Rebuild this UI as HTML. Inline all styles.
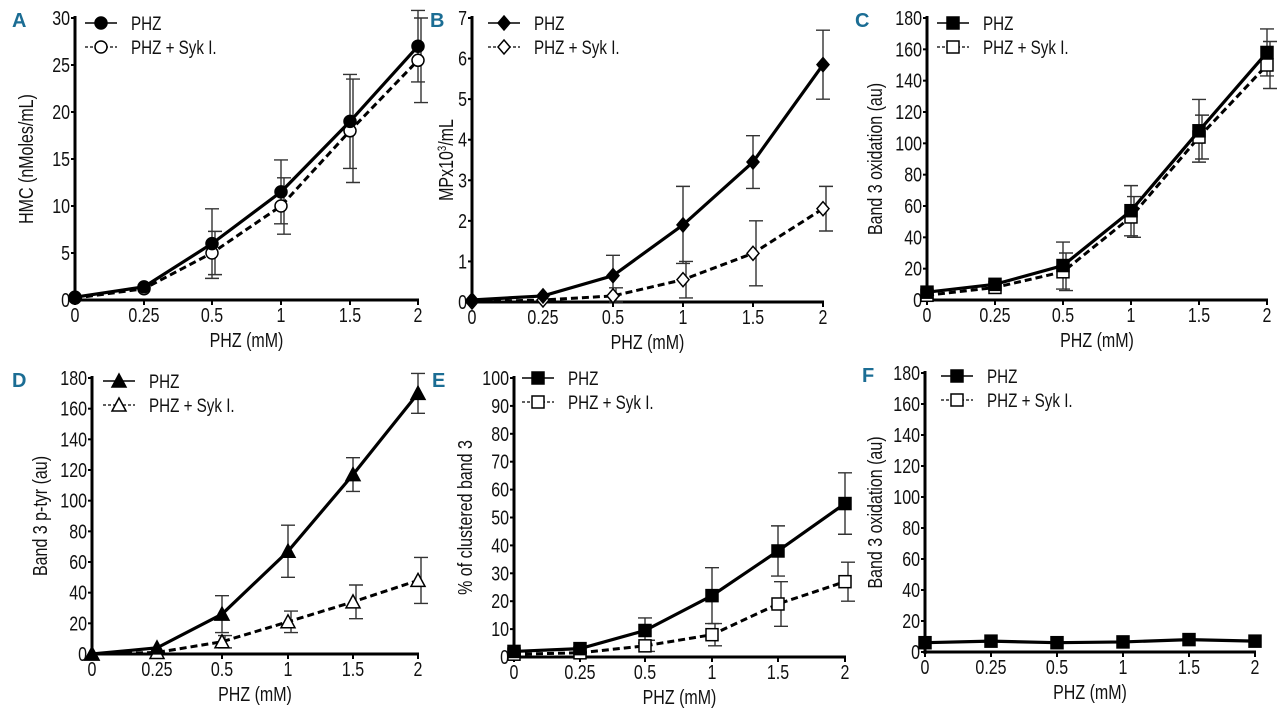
<!DOCTYPE html>
<html><head><meta charset="utf-8"><style>
html,body{margin:0;padding:0;background:#fff}
svg{display:block}
text{font-family:"Liberation Sans",sans-serif;fill:#111}
</style></head><body>
<svg id="fig" width="1280" height="723" viewBox="0 0 1280 723" xmlns="http://www.w3.org/2000/svg"></svg>
<script>
const categories = ["0","0.25","0.5","1","1.5","2"];
// Panel A
const aPhz = [0.3,1.4,6,11.5,19,27];
const aPhzErr = [0,0,3.7,3.4,5,3.8];
const aSyk = [0.2,1.2,5,10,18,25.5];
const aSykErr = [0,0,2.3,3,5.5,4.5];
const aTicks = [0,5,10,15,20,25,30];
// Panel B
const bPhz = [0.05,0.15,0.65,1.9,3.45,5.85];
const bPhzErr = [0,0,0.5,0.95,0.65,0.85];
const bSyk = [0,0.05,0.15,0.55,1.2,2.3];
const bSykErr = [0,0,0.2,0.45,0.8,0.55];
const bTicks = [0,1,2,3,4,5,6,7];
// Panel C
const cPhz = [5,10,22,57,108,158];
const cPhzErr = [0,0,15,16,20,15];
const cSyk = [3,8,18,53,104,150];
const cSykErr = [0,0,12,13,14,15];
const cTicks = [0,20,40,60,80,100,120,140,160,180];
// Panel D
const dPhz = [0,4,26,67,117,170];
const dPhzErr = [0,0,12,17,11,13];
const dSyk = [0,1,8,21,34,48];
const dSykErr = [0,0,4,7,11,15];
const dTicks = [0,20,40,60,80,100,120,140,160,180];
// Panel E
const ePhz = [2,3,9.5,22,38,55];
const ePhzErr = [0,0,4.5,10,9,11];
const eSyk = [1,1.5,4,8,19,27];
const eSykErr = [0,0,2,4,8,7];
const eTicks = [0,10,20,30,40,50,60,70,80,90,100];
// Panel F
const fPhz = [6,7,6,6.5,8,7];
const fPhzErr = [0,0,0,0,0,0];
const fSyk = [5,6,5,5.5,7,6];
const fSykErr = [0,0,0,0,0,0];
const fTicks = [0,20,40,60,80,100,120,140,160,180];

const NS="http://www.w3.org/2000/svg";
const svg=document.getElementById('fig');
function mk(tag,attrs,parent,txt){const e=document.createElementNS(NS,tag);for(const k in attrs)e.setAttribute(k,attrs[k]);if(txt!==undefined)e.textContent=txt;(parent||svg).appendChild(e);return e;}
// condensed text
function ctext(parent,x,y,anchor,size,str,rot,html){
  let tr=`translate(${x},${y})`+(rot?` rotate(${rot})`:'')+` scale(0.8,1)`;
  const e=mk("text",{x:0,y:0,"text-anchor":anchor,"font-size":size,transform:tr},parent);
  if(html)e.innerHTML=str;else e.textContent=str;
  return e;
}

function marker(g,shape,x,y,filled,s){
  const f=filled?"#000":"#fff";let e;
  if(shape==="circle")e=mk("circle",{cx:x,cy:y,r:s,fill:f,stroke:"#000","stroke-width":1.5},g);
  else if(shape==="square")e=mk("rect",{x:x-s,y:y-s,width:2*s,height:2*s,fill:f,stroke:"#000","stroke-width":1.5},g);
  else if(shape==="diamond")e=mk("polygon",{points:`${x},${y-s-1} ${x+s},${y} ${x},${y+s+1} ${x-s},${y}`,fill:f,stroke:"#000","stroke-width":1.5},g);
  else e=mk("polygon",{points:`${x},${y-s-1} ${x+s+1},${y+s} ${x-s-1},${y+s}`,fill:f,stroke:"#000","stroke-width":1.5},g);
  return e;
}

function panel(p){
  const g=mk("g",{},svg);
  
  
  const xs=p.xs;
  const ymax=p.ticks[p.ticks.length-1];
  const Y=v=>p.y0+(p.y1-p.y0)*v/ymax;
  const X=i=>xs[i];
  const L=mk("text",{x:p.lx,y:p.y1+9,"font-size":20,"font-weight":"bold",style:"fill:#1b6d94"},g,p.id);
  
  
  const ya=mk("line",{x1:xs[0],y1:p.y1-2,x2:xs[0],y2:p.y0+2,stroke:"#000","stroke-width":3},g);
  
  
  const xa=mk("line",{x1:xs[0],y1:p.y0,x2:xs[5]+1,y2:p.y0,stroke:"#000","stroke-width":3},g);
  
  
  p.ticks.forEach(t=>{
    mk("line",{x1:xs[0]-4,x2:xs[0],y1:Y(t),y2:Y(t),stroke:"#000","stroke-width":2},g);
    const tl=ctext(g,xs[0]-5,Y(t)+7,"end",20,String(t));
    
    
  });
  categories.forEach((c,i)=>{
    mk("line",{x1:X(i),x2:X(i),y1:p.y0,y2:p.y0+5,stroke:"#000","stroke-width":2},g);
    const tl=ctext(g,X(i),p.y0+22,"middle",20,c);
    
    
  });
  const xt=ctext(g,(xs[0]+xs[5])/2,p.y0+47,"middle",20,"PHZ (mM)");
  
  
  const yt=ctext(g,p.ytx,(p.y0+p.y1)/2,"middle",20,p.ytitle,-90,true);
  
  
  const series=[{v:p.syk,e:p.sykErr,f:false,d:"7,4",n:"syk"},{v:p.phz,e:p.phzErr,f:true,d:"",n:"phz"}];
  series.forEach(s=>{
    s.v.forEach((v,i)=>{
      if(s.e[i]>0){
        const off=s.f?0:3;
        const x=X(i)+off,a=Y(v+s.e[i]),b=Y(Math.max(v-s.e[i],0));
        const eb=mk("path",{d:`M${x},${a}V${b}M${x-7},${a}H${x+7}M${x-7},${b}H${x+7}`,stroke:"#333","stroke-width":1.4,fill:"none"},g);
        
        
      }
    });
  });
  series.forEach(s=>{
    if(p.hideSyk&&!s.f)return;
    const pts=s.v.map((v,i)=>`${X(i)},${Y(v)}`).join(" ");
    const ln=mk("polyline",{points:pts,fill:"none",stroke:"#000","stroke-width":s.f?3.2:3,"stroke-dasharray":s.d},g);
    
    
    s.v.forEach((v,i)=>{
      const m=marker(g,p.shape,X(i),Y(v),s.f,p.ms);
      
      
    });
  });
  const lg=mk("g",{},g);
  
  
  [[true,"PHZ",""],[false,"PHZ + Syk I.","3,2"]].forEach((Lg,k)=>{
    const y=p.legY+k*24;
    const e=mk("g",{},lg);
    
    
    mk("line",{x1:p.legX,x2:p.legX+32,y1:y,y2:y,stroke:"#000","stroke-width":Lg[0]?1.5:1.2,"stroke-dasharray":Lg[2]},e);
    marker(e,p.shape,p.legX+16,y,Lg[0],p.ms);
    ctext(e,p.legX+46,y+7,"start",19,Lg[1]);
  });
}

panel({id:"A",xs:[75,144,212,281,350,418],y0:300,y1:18,ticks:aTicks,phz:aPhz,phzErr:aPhzErr,syk:aSyk,sykErr:aSykErr,shape:"circle",ms:6,lx:12,ytx:33,ytitle:"HMC (nMoles/mL)",legX:85,legY:23});
panel({id:"B",xs:[472,543,613,683,753,823],y0:302,y1:18,ticks:bTicks,phz:bPhz,phzErr:bPhzErr,syk:bSyk,sykErr:bSykErr,shape:"diamond",ms:6,lx:430,ytx:453,ytitle:"MPx10<tspan font-size='12' dy='-7'>3</tspan><tspan dy='7'>/mL</tspan>",legX:488,legY:23});
panel({id:"C",xs:[927,995,1063,1131,1199,1267],y0:300,y1:18,ticks:cTicks,phz:cPhz,phzErr:cPhzErr,syk:cSyk,sykErr:cSykErr,shape:"square",ms:6,lx:855,ytx:882,ytitle:"Band 3 oxidation (au)",legX:937,legY:23});
panel({id:"D",xs:[92,157,222,288,353,418],y0:654,y1:378,ticks:dTicks,phz:dPhz,phzErr:dPhzErr,syk:dSyk,sykErr:dSykErr,shape:"triangle",ms:6,lx:12,ytx:47,ytitle:"Band 3 p-tyr (au)",legX:103,legY:381});
panel({id:"E",xs:[514,580,645,712,778,845],y0:657,y1:378,ticks:eTicks,phz:ePhz,phzErr:ePhzErr,syk:eSyk,sykErr:eSykErr,shape:"square",ms:6,lx:432,ytx:472,ytitle:"% of clustered band 3",legX:522,legY:378});
panel({id:"F",xs:[925,991,1057,1123,1189,1255],y0:652,y1:373,ticks:fTicks,phz:fPhz,phzErr:fPhzErr,syk:fSyk,sykErr:fSykErr,shape:"square",ms:6,lx:862,ytx:882,ytitle:"Band 3 oxidation (au)",legX:941,legY:376,hideSyk:true});
</script>
</body></html>
